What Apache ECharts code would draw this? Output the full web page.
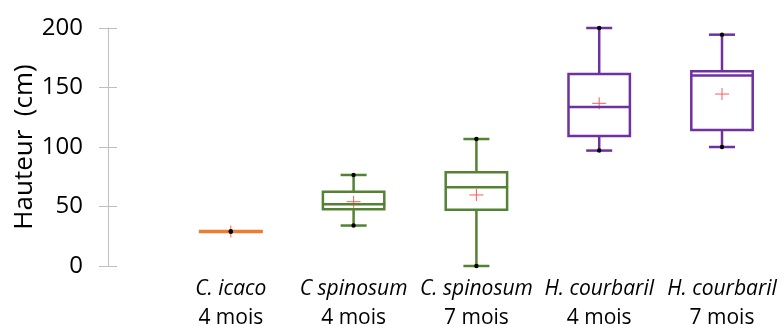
<!DOCTYPE html>
<html><head><meta charset="utf-8">
<script src="https://cdn.jsdelivr.net/npm/echarts@6/dist/echarts.min.js"></script>
<style>html,body{margin:0;padding:0;background:#fff}#c{width:782px;height:325px}</style>
</head><body><div id="c"></div>
<script>
// ---- data ----
const species = ['C. icaco', 'C spinosum', 'C. spinosum', 'H. courbaril', 'H. courbaril'];
const ages = ['4 mois', '4 mois', '7 mois', '4 mois', '7 mois'];
const minVals = [29, 34, 0, 97, 100];
const q1Vals = [28.5, 47.6, 47.3, 109.2, 114.3];
const medianVals = [29, 51.8, 66.1, 133.6, 160];
const q3Vals = [29.5, 62.5, 78.7, 161.3, 163.6];
const maxVals = [29, 76.5, 106.7, 200, 194.4];
const meanVals = [29, 54, 59.7, 136.7, 144.5];
const yTicks = [0, 50, 100, 150, 200];

// ---- styles ----
const boxColors = ['#ED7D31', '#548235', '#548235', '#7030A0', '#7030A0'];
const FONT = '"Open Sans", "Noto Sans", sans-serif';

const categories = [''].concat(species.map((s, i) => s + '\n' + ages[i]));
const seriesData = species.map((s, i) => [i + 1, minVals[i], q1Vals[i], medianVals[i], q3Vals[i], maxVals[i], meanVals[i]]);

function renderItem(params, api) {
  const xi = api.value(0);
  const c = v => api.coord([xi, v]);
  const bw = api.size([1, 0])[0] * 0.5;
  const cw = 26;
  const lw = 2.5;
  const col = boxColors[params.dataIndex];
  const pMin = c(api.value(1)), pQ1 = c(api.value(2)), pMed = c(api.value(3)),
        pQ3 = c(api.value(4)), pMax = c(api.value(5)), pMean = c(api.value(6));
  const cx = pMed[0];
  const ln = (x1, y1, x2, y2, stroke, w) => ({type: 'line', shape: {x1, y1, x2, y2}, style: {stroke, lineWidth: w}});
  const children = [
    ln(pMean[0] - 7, pMean[1], pMean[0] + 7, pMean[1], '#FF5A5A', 1),
    ln(pMean[0], pMean[1] - 6, pMean[0], pMean[1] + 6, '#FF5A5A', 1),
    ln(cx, pQ3[1], cx, pMax[1], col, lw),
    ln(cx, pQ1[1], cx, pMin[1], col, lw),
    ln(cx - cw / 2, pMax[1], cx + cw / 2, pMax[1], col, lw),
    ln(cx - cw / 2, pMin[1], cx + cw / 2, pMin[1], col, lw),
    {type: 'rect', shape: {x: cx - bw / 2, y: pQ3[1], width: bw, height: pQ1[1] - pQ3[1]},
     style: {fill: 'none', stroke: col, lineWidth: lw}},
    ln(cx - bw / 2, pMed[1], cx + bw / 2 + 1, pMed[1], col, lw),
    {type: 'circle', shape: {cx: cx, cy: pMax[1], r: 2.2}, style: {fill: '#000'}},
    {type: 'circle', shape: {cx: cx, cy: pMin[1], r: 2.2}, style: {fill: '#000'}}
  ];
  return {type: 'group', children};
}

const chart = echarts.init(document.getElementById('c'));
chart.setOption({
  animation: false,
  grid: {left: 108, right: 60, top: 28, bottom: 59, containLabel: false, outerBoundsMode: 'none'},
  xAxis: {
    type: 'category', data: categories, boundaryGap: false,
    axisLine: {show: false}, axisTick: {show: false}, splitLine: {show: false},
    axisLabel: {
      interval: 0, margin: 9,
      formatter: v => {
        if (!v) return '';
        const parts = v.split('\n');
        return '{sp|' + parts[0] + '}\n{ag|' + parts[1] + '}';
      },
      rich: {
        sp: {fontFamily: FONT, fontSize: 21, fontStyle: 'italic', color: '#000', lineHeight: 29},
        ag: {fontFamily: FONT, fontSize: 21, color: '#000', lineHeight: 29}
      }
    }
  },
  yAxis: [{
    type: 'value', min: 0, max: 200, interval: 50,
    name: 'Hauteur  (cm)', nameLocation: 'middle', nameGap: 70, nameMoveOverlap: false,
    nameTextStyle: {fontFamily: FONT, fontSize: 26, color: '#000'},
    axisLine: {show: true, lineStyle: {color: '#BFBFBF', width: 1}},
    axisTick: {show: true, length: 9, lineStyle: {color: '#BFBFBF'}},
    splitLine: {show: false},
    axisLabel: {margin: 25, fontFamily: FONT, fontSize: 24, color: '#000',
      customValues: yTicks}
  }, {
    type: 'value', min: 0, max: 200, interval: 50, position: 'left',
    axisLine: {show: false}, axisLabel: {show: false}, splitLine: {show: false},
    axisTick: {show: true, inside: true, length: 9, lineStyle: {color: '#BFBFBF'}}
  }],
  series: [{
    type: 'custom', renderItem, data: seriesData,
    encode: {x: 0, y: [1, 2, 3, 4, 5, 6]}, clip: false, z: 3
  }]
});
</script>
</body></html>
